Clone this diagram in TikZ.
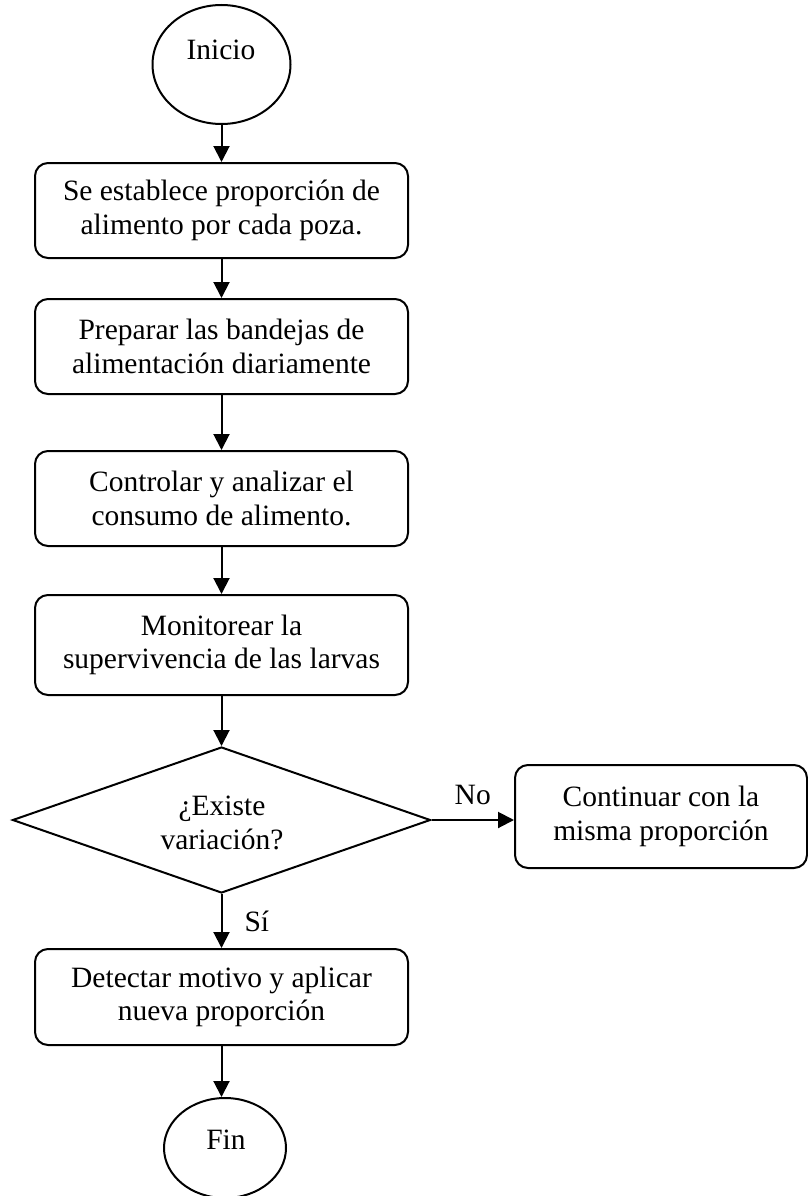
\documentclass[tikz,border=0pt]{standalone}
\usepackage{fontspec}
\setmainfont{Liberation Serif}
\usetikzlibrary{shapes.geometric,arrows.meta}

\tikzset{
  every node/.style={font=\fontsize{29.5}{33.5}\selectfont},
  stepbox/.style={draw, line width=2pt, rounded corners=13pt, align=center,
    minimum width=373pt, inner sep=0pt},
  terminal/.style={draw, ellipse, line width=2pt, inner sep=0pt},
  decision/.style={draw, diamond, line width=2pt, inner sep=0pt,
    minimum width=418pt, minimum height=146pt},
  flow/.style={line width=2pt, -{Triangle[length=16pt,width=16pt]}}
}

\begin{document}
\begin{tikzpicture}[x=1pt, y=-1pt]
  \useasboundingbox (0,0) rectangle (808,1196);

  % start / end terminals
  \node[terminal, minimum width=138pt, minimum height=119pt] (inicio) at (221.5,64.5) {};
  \node (inicioT) at (221,50) {Inicio};

  \node[terminal, minimum width=122pt, minimum height=100pt] (fin) at (225,1148) {};
  \node (finT) at (226,1140) {Fin};

  % process steps
  \node[stepbox, minimum height=95pt] (s1) at (221.5,210.5)
    {Se establece proporción de\\alimento por cada poza.};
  \node[stepbox, minimum height=95pt] (s2) at (221.5,346.5)
    {Preparar las bandejas de\\alimentación diariamente};
  \node[stepbox, minimum height=95pt] (s3) at (221.5,498.5)
    {Controlar y analizar el\\consumo de alimento.};
  \node[stepbox, minimum height=100pt] (s4) at (221.5,645)
    {Monitorear la\\supervivencia de las larvas};

  % decision
  \node[decision] (dec) at (221.5,820) {};
  \node[align=center, inner sep=0pt] (decT) at (222,823) {¿Existe\\variación?};

  \node[stepbox, minimum width=292pt, minimum height=103pt] (alt) at (661,816.5)
    {Continuar con la\\misma proporción};

  \node[stepbox, minimum height=96pt] (s5) at (221.5,997)
    {Detectar motivo y aplicar\\nueva proporción};

  % connectors
  \draw[flow] (inicio.south) -- (inicio.south |- s1.north);
  \draw[flow] (s1.south) -- (s2.north);
  \draw[flow] (s2.south) -- (s3.north);
  \draw[flow] (s3.south) -- (s4.north);
  \draw[flow] (s4.south) -- (dec.north);
  \draw[flow] (dec.east) -- node[midway, above=14pt, inner sep=0pt] (no) {No} (dec.east -| alt.west);
  \draw[flow] (dec.south) -- node[midway, right=22pt, inner sep=0pt] (si) {Sí} (s5.north);
  \draw[flow] (s5.south) -- (s5.south |- fin.north);
\end{tikzpicture}
\end{document}
